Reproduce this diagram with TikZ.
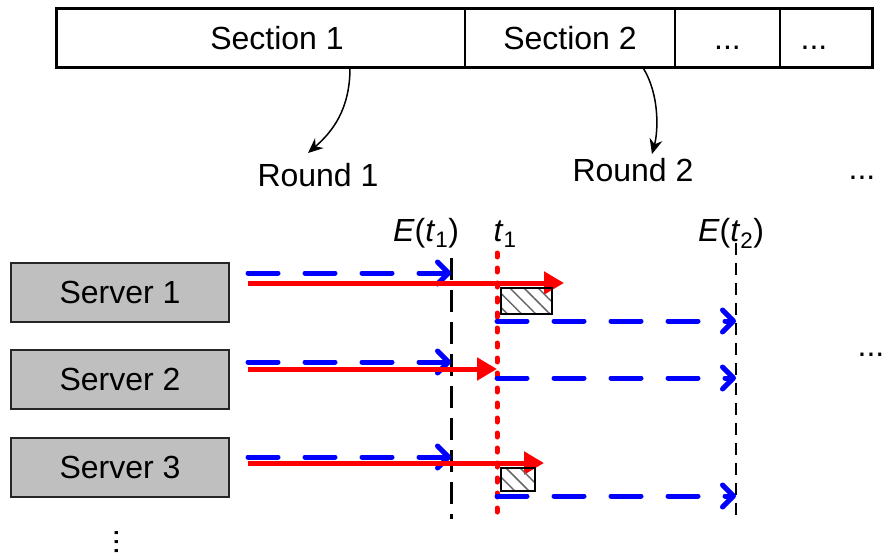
\documentclass[tikz,border=0pt]{standalone}
\usepackage{fontspec}
\setmainfont{Liberation Sans}
\usetikzlibrary{arrows.meta,patterns.meta}

\begin{document}
\begin{tikzpicture}
[
x=1pt, y=-1pt,
every node/.style={font=\fontsize{32}{36}\selectfont, inner sep=0pt},
Cell/.style={rectangle, draw=black, line width=1.5pt, minimum height=58pt},
Server/.style={rectangle, draw=black!85, fill=black!25, line width=2pt, minimum width=218pt, minimum height=59pt},
Bend/.style={draw=black, line width=1.5pt, -{Stealth[length=15pt,width=13pt]}},
Plan/.style={draw=blue, line width=5pt, line cap=round, dash pattern=on 30pt off 27pt, -{Straight Barb[round,length=11pt,width=22pt]}},
Real/.style={draw=red, line width=5pt, -{Triangle[length=20pt,width=22pt]}},
Cut/.style={draw=red, line width=5pt, line cap=round, dash pattern=on 4pt off 11pt},
Thickdash/.style={draw=black, line width=3pt, dash pattern=on 22pt off 10pt},
Thindash/.style={draw=black, line width=2pt, dash pattern=on 12pt off 8pt},
Hatch/.style={draw=black, line width=2pt, pattern={Lines[angle=-45,distance=10pt,line width=1.5pt]}, pattern color=black!60},
]

\useasboundingbox (0,0) rectangle (886,556);

% sections of the stream
\node[Cell, minimum width=408pt] (sec1) at (261,38) {\hspace*{32pt}Section 1};
\node[Cell, minimum width=210pt] (sec2) at (570,38) {Section 2};
\node[Cell, minimum width=105pt] (dots1) at (727.5,38) {\vphantom{S}...};
\node[Cell, minimum width=92pt] (dots2) at (826,38) {\vphantom{S}...\hspace*{24pt}};
\draw[line width=2.5pt] (sec1.north west) rectangle (dots2.south east);

% rounds
\node (round1) at (318,175) {Round 1};
\node (round2) at (633,170) {Round 2};
\node (rounds) at (862,178) {...};

\draw[Bend] ([shift={(89,0)}]sec1.south) .. controls (350,110) and (332,132) .. ([shift={(-10,-10)}]round1.north);
\draw[Bend] ([shift={(73,0)}]sec2.south) .. controls (660,95) and (658,132) .. ([shift={(19,-4)}]round2.north);

% time marks
\node[anchor=base] (lEt1) at (426,241) {\textit{E}(\textit{t}\textsubscript{1})};
\node[anchor=base] (lt1) at (505,241) {\textit{t}\textsubscript{1}};
\node[anchor=base] (lEt2) at (731,241) {\textit{E}(\textit{t}\textsubscript{2})};

\coordinate (Et1) at (451,258);
\coordinate (Et1b) at (451,519);
\coordinate (Ct1) at (497,253);
\coordinate (Ct1b) at (497,512);
\coordinate (Et2) at (736,243);
\coordinate (Et2b) at (736,522);

\draw[Thickdash] (Et1) -- (Et1b);
\draw[Thindash] (Et2) -- (Et2b);
\draw[Cut] (Ct1) -- (Ct1b);

% servers
\node[Server] (srv1) at (120,292.5) {Server 1};
\node[Server] (srv2) at (120,379) {Server 2};
\node[Server] (srv3) at (120,467) {Server 3};
\node[rotate=90] (more) at (117,542) {...};
\node (others) at (871,355) {...};

\coordinate (b1) at ([shift={(18,-19.5)}]srv1.east);
\coordinate (r1) at ([shift={(18,-9.5)}]srv1.east);
\coordinate (n1) at ([shift={(0,28.5)}]srv1.east);
\coordinate (b2) at ([shift={(18,-17)}]srv2.east);
\coordinate (r2) at ([shift={(18,-10)}]srv2.east);
\coordinate (n2) at ([shift={(0,-1)}]srv2.east);
\coordinate (b3) at ([shift={(18,-10)}]srv3.east);
\coordinate (r3) at ([shift={(18,-4)}]srv3.east);
\coordinate (n3) at ([shift={(0,29)}]srv3.east);

\draw[Plan] (b1) -- (b1 -| Et1);
\draw[Real] (r1) -- ++(316,0);
\draw[Plan] (n1 -| Ct1) -- (n1 -| Et2);

\draw[Plan] (b2) -- (b2 -| Et1);
\draw[Real] (r2) -- (r2 -| Ct1);
\draw[Plan] (n2 -| Ct1) -- (n2 -| Et2);

\draw[Plan] (b3) -- (b3 -| Et1);
\draw[Real] (r3) -- ++(296,0);
\draw[Plan] (n3 -| Ct1) -- (n3 -| Et2);

% waiting
\draw[Hatch] (501,288) rectangle (552,314);
\draw[Hatch] (501,468) rectangle (535,491);

\end{tikzpicture}
\end{document}
